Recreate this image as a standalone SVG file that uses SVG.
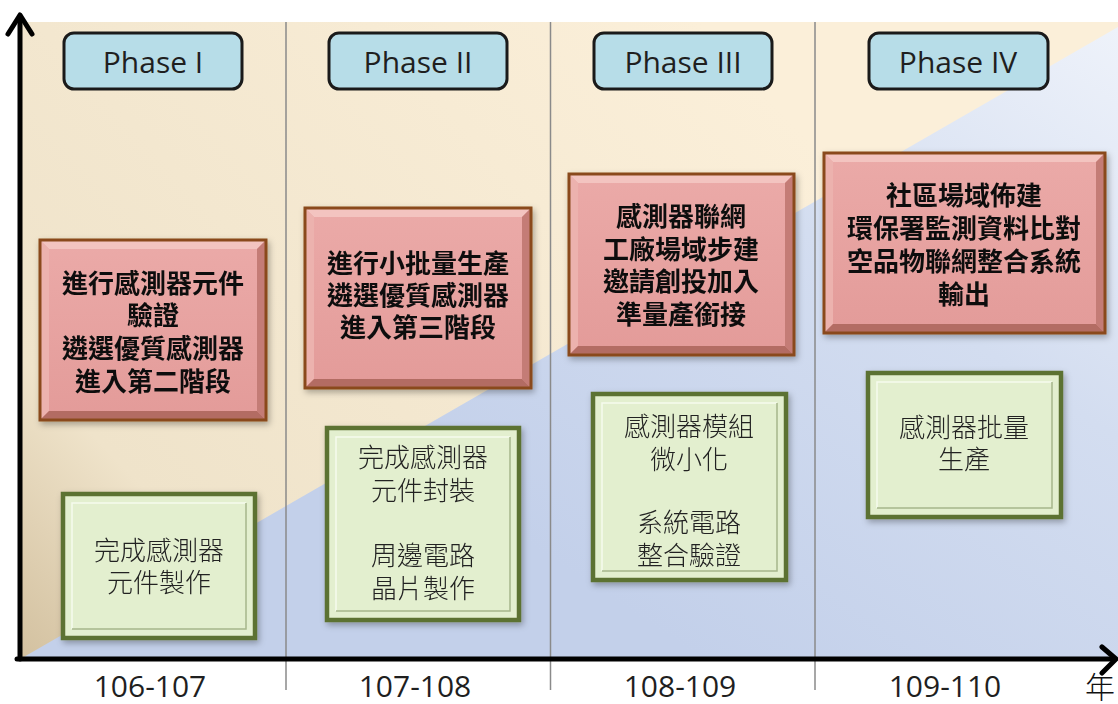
<svg xmlns="http://www.w3.org/2000/svg" width="1118" height="704" viewBox="0 0 1118 704">
<style>
.phase rect{fill:#B7DDE8;stroke:#1a1a1a;stroke-width:3}
.phase text,.year{font-family:"Open Sans","Liberation Sans",sans-serif;font-size:30px;fill:#1f1f1f;text-anchor:middle}
.red text{font-family:"Noto Sans CJK TC","Noto Sans CJK SC",sans-serif;font-size:26px;font-weight:700;fill:#111;text-anchor:middle}
.green text{font-family:"Noto Sans CJK TC","Noto Sans CJK SC",sans-serif;font-size:26px;font-weight:300;fill:#222;text-anchor:middle}
.rface{fill:url(#rg)}
.rborder{fill:none;stroke:#8A4A1C;stroke-width:3}
.bt{fill:#F3C4C0}.bl{fill:#ECB2AE}.br{fill:#C47C76}.bb{fill:#B36C63}
.gface{fill:#E3EFCF;stroke:#5C7232;stroke-width:4.5}
.ghi{fill:none;stroke:#F6FBEE;stroke-width:1.5}
.glo{fill:none;stroke:#A7B78C;stroke-width:1.5}
.div{stroke:#8a8a8a;stroke-width:1.5}
.axis{stroke:#000;stroke-width:5;fill:none;stroke-linecap:round;stroke-linejoin:round}
</style>
<defs>
<linearGradient id="beige" gradientUnits="userSpaceOnUse" x1="22" y1="658" x2="700" y2="22">
<stop offset="0" stop-color="#D3C1A0"/><stop offset="0.22" stop-color="#EFE3CA"/><stop offset="1" stop-color="#FBEFD9"/>
</linearGradient>
<linearGradient id="blue" gradientUnits="userSpaceOnUse" x1="1118" y1="30" x2="700" y2="658">
<stop offset="0" stop-color="#EEF2FA"/><stop offset="0.45" stop-color="#D3DDF0"/><stop offset="1" stop-color="#C3D0EA"/>
</linearGradient>
<linearGradient id="rg" x1="0" y1="0" x2="0" y2="1">
<stop offset="0" stop-color="#EBAAA8"/><stop offset="1" stop-color="#E39B99"/>
</linearGradient>
<filter id="sh" x="-10%" y="-10%" width="125%" height="125%">
<feDropShadow dx="2" dy="3" stdDeviation="3" flood-color="#000" flood-opacity="0.3"/>
</filter>
</defs>

<g id="background">
<rect x="22" y="22" width="1096" height="636" fill="url(#beige)"/>
<polygon points="22,658 1118,27 1118,658" fill="url(#blue)"/>
<line class="div" x1="286" y1="22" x2="286" y2="690"/>
<line class="div" x1="550.5" y1="22" x2="550.5" y2="690"/>
<line class="div" x1="815" y1="22" x2="815" y2="690"/>
</g>

<g id="axes">
<polyline class="axis" points="20,659 20,16"/>
<polyline class="axis" points="8,34 20,15 32,34"/>
<polyline class="axis" points="17,659 1114,659"/>
<polyline class="axis" points="1102,647 1116,659 1102,673"/>
</g>

<g id="phase1" class="phase"><rect x="64" y="33" width="178" height="56" rx="10"/><text x="153" y="73">Phase I</text></g>
<g id="phase2" class="phase"><rect x="329" y="33" width="178" height="56" rx="10"/><text x="418" y="73">Phase II</text></g>
<g id="phase3" class="phase"><rect x="594" y="33" width="178" height="56" rx="10"/><text x="683" y="73">Phase III</text></g>
<g id="phase4" class="phase"><rect x="869" y="33" width="179" height="56" rx="10"/><text x="958" y="73">Phase IV</text></g>

<g id="red1" class="red" filter="url(#sh)">
<rect class="rface" x="40" y="240" width="226" height="180"/>
<polygon class="bt" points="40,240 266,240 257,249 49,249"/>
<polygon class="bl" points="40,240 49,249 49,411 40,420"/>
<polygon class="br" points="266,240 266,420 257,411 257,249"/>
<polygon class="bb" points="40,420 49,411 257,411 266,420"/>
<rect class="rborder" x="40" y="240" width="226" height="180"/>
<text x="153" y="293">進行感測器元件</text>
<text x="153" y="325">驗證</text>
<text x="153" y="358">遴選優質感測器</text>
<text x="153" y="391">進入第二階段</text>
</g>

<g id="red2" class="red" filter="url(#sh)">
<rect class="rface" x="305" y="208" width="226" height="180"/>
<polygon class="bt" points="305,208 531,208 522,217 314,217"/>
<polygon class="bl" points="305,208 314,217 314,379 305,388"/>
<polygon class="br" points="531,208 531,388 522,379 522,217"/>
<polygon class="bb" points="305,388 314,379 522,379 531,388"/>
<rect class="rborder" x="305" y="208" width="226" height="180"/>
<text x="418" y="273">進行小批量生產</text>
<text x="418" y="305">遴選優質感測器</text>
<text x="418" y="337">進入第三階段</text>
</g>

<g id="red3" class="red" filter="url(#sh)">
<rect class="rface" x="569" y="174" width="225" height="181"/>
<polygon class="bt" points="569,174 794,174 785,183 578,183"/>
<polygon class="bl" points="569,174 578,183 578,346 569,355"/>
<polygon class="br" points="794,174 794,355 785,346 785,183"/>
<polygon class="bb" points="569,355 578,346 785,346 794,355"/>
<rect class="rborder" x="569" y="174" width="225" height="181"/>
<text x="681" y="226">感測器聯網</text>
<text x="681" y="259">工廠場域步建</text>
<text x="681" y="291">邀請創投加入</text>
<text x="681" y="324">準量產銜接</text>
</g>

<g id="red4" class="red" filter="url(#sh)">
<rect class="rface" x="824" y="153" width="281" height="180"/>
<polygon class="bt" points="824,153 1105,153 1096,162 833,162"/>
<polygon class="bl" points="824,153 833,162 833,324 824,333"/>
<polygon class="br" points="1105,153 1105,333 1096,324 1096,162"/>
<polygon class="bb" points="824,333 833,324 1096,324 1105,333"/>
<rect class="rborder" x="824" y="153" width="281" height="180"/>
<text x="964" y="205">社區場域佈建</text>
<text x="964" y="238">環保署監測資料比對</text>
<text x="964" y="271">空品物聯網整合系統</text>
<text x="964" y="304">輸出</text>
</g>

<g id="green1" class="green" filter="url(#sh)">
<rect class="gface" x="63" y="494" width="192" height="144"/>
<polyline class="ghi" points="72,629 72,503 246,503"/>
<polyline class="glo" points="72,629 246,629 246,503"/>
<text x="159" y="560">完成感測器</text>
<text x="159" y="592">元件製作</text>
</g>

<g id="green2" class="green" filter="url(#sh)">
<rect class="gface" x="327" y="428" width="192" height="192"/>
<polyline class="ghi" points="336,611 336,437 510,437"/>
<polyline class="glo" points="336,611 510,611 510,437"/>
<text x="423" y="467">完成感測器</text>
<text x="423" y="500">元件封裝</text>
<text x="423" y="565">周邊電路</text>
<text x="423" y="598">晶片製作</text>
</g>

<g id="green3" class="green" filter="url(#sh)">
<rect class="gface" x="593" y="394" width="193" height="186"/>
<polyline class="ghi" points="602,571 602,403 777,403"/>
<polyline class="glo" points="602,571 777,571 777,403"/>
<text x="689" y="436">感測器模組</text>
<text x="689" y="469">微小化</text>
<text x="689" y="532">系統電路</text>
<text x="689" y="565">整合驗證</text>
</g>

<g id="green4" class="green" filter="url(#sh)">
<rect class="gface" x="868" y="373" width="193" height="144"/>
<polyline class="ghi" points="877,508 877,382 1052,382"/>
<polyline class="glo" points="877,508 1052,508 1052,382"/>
<text x="964" y="437">感測器批量</text>
<text x="964" y="469">生產</text>
</g>

<g id="labels">
<text class="year" x="150" y="697">106-107</text>
<text class="year" x="415" y="697">107-108</text>
<text class="year" x="680" y="697">108-109</text>
<text class="year" x="945" y="697">109-110</text>
<text x="1100" y="698" font-family="'Noto Sans CJK TC','Noto Sans CJK SC',sans-serif" font-size="30" font-weight="300" fill="#111" text-anchor="middle">年</text>
</g>
</svg>
